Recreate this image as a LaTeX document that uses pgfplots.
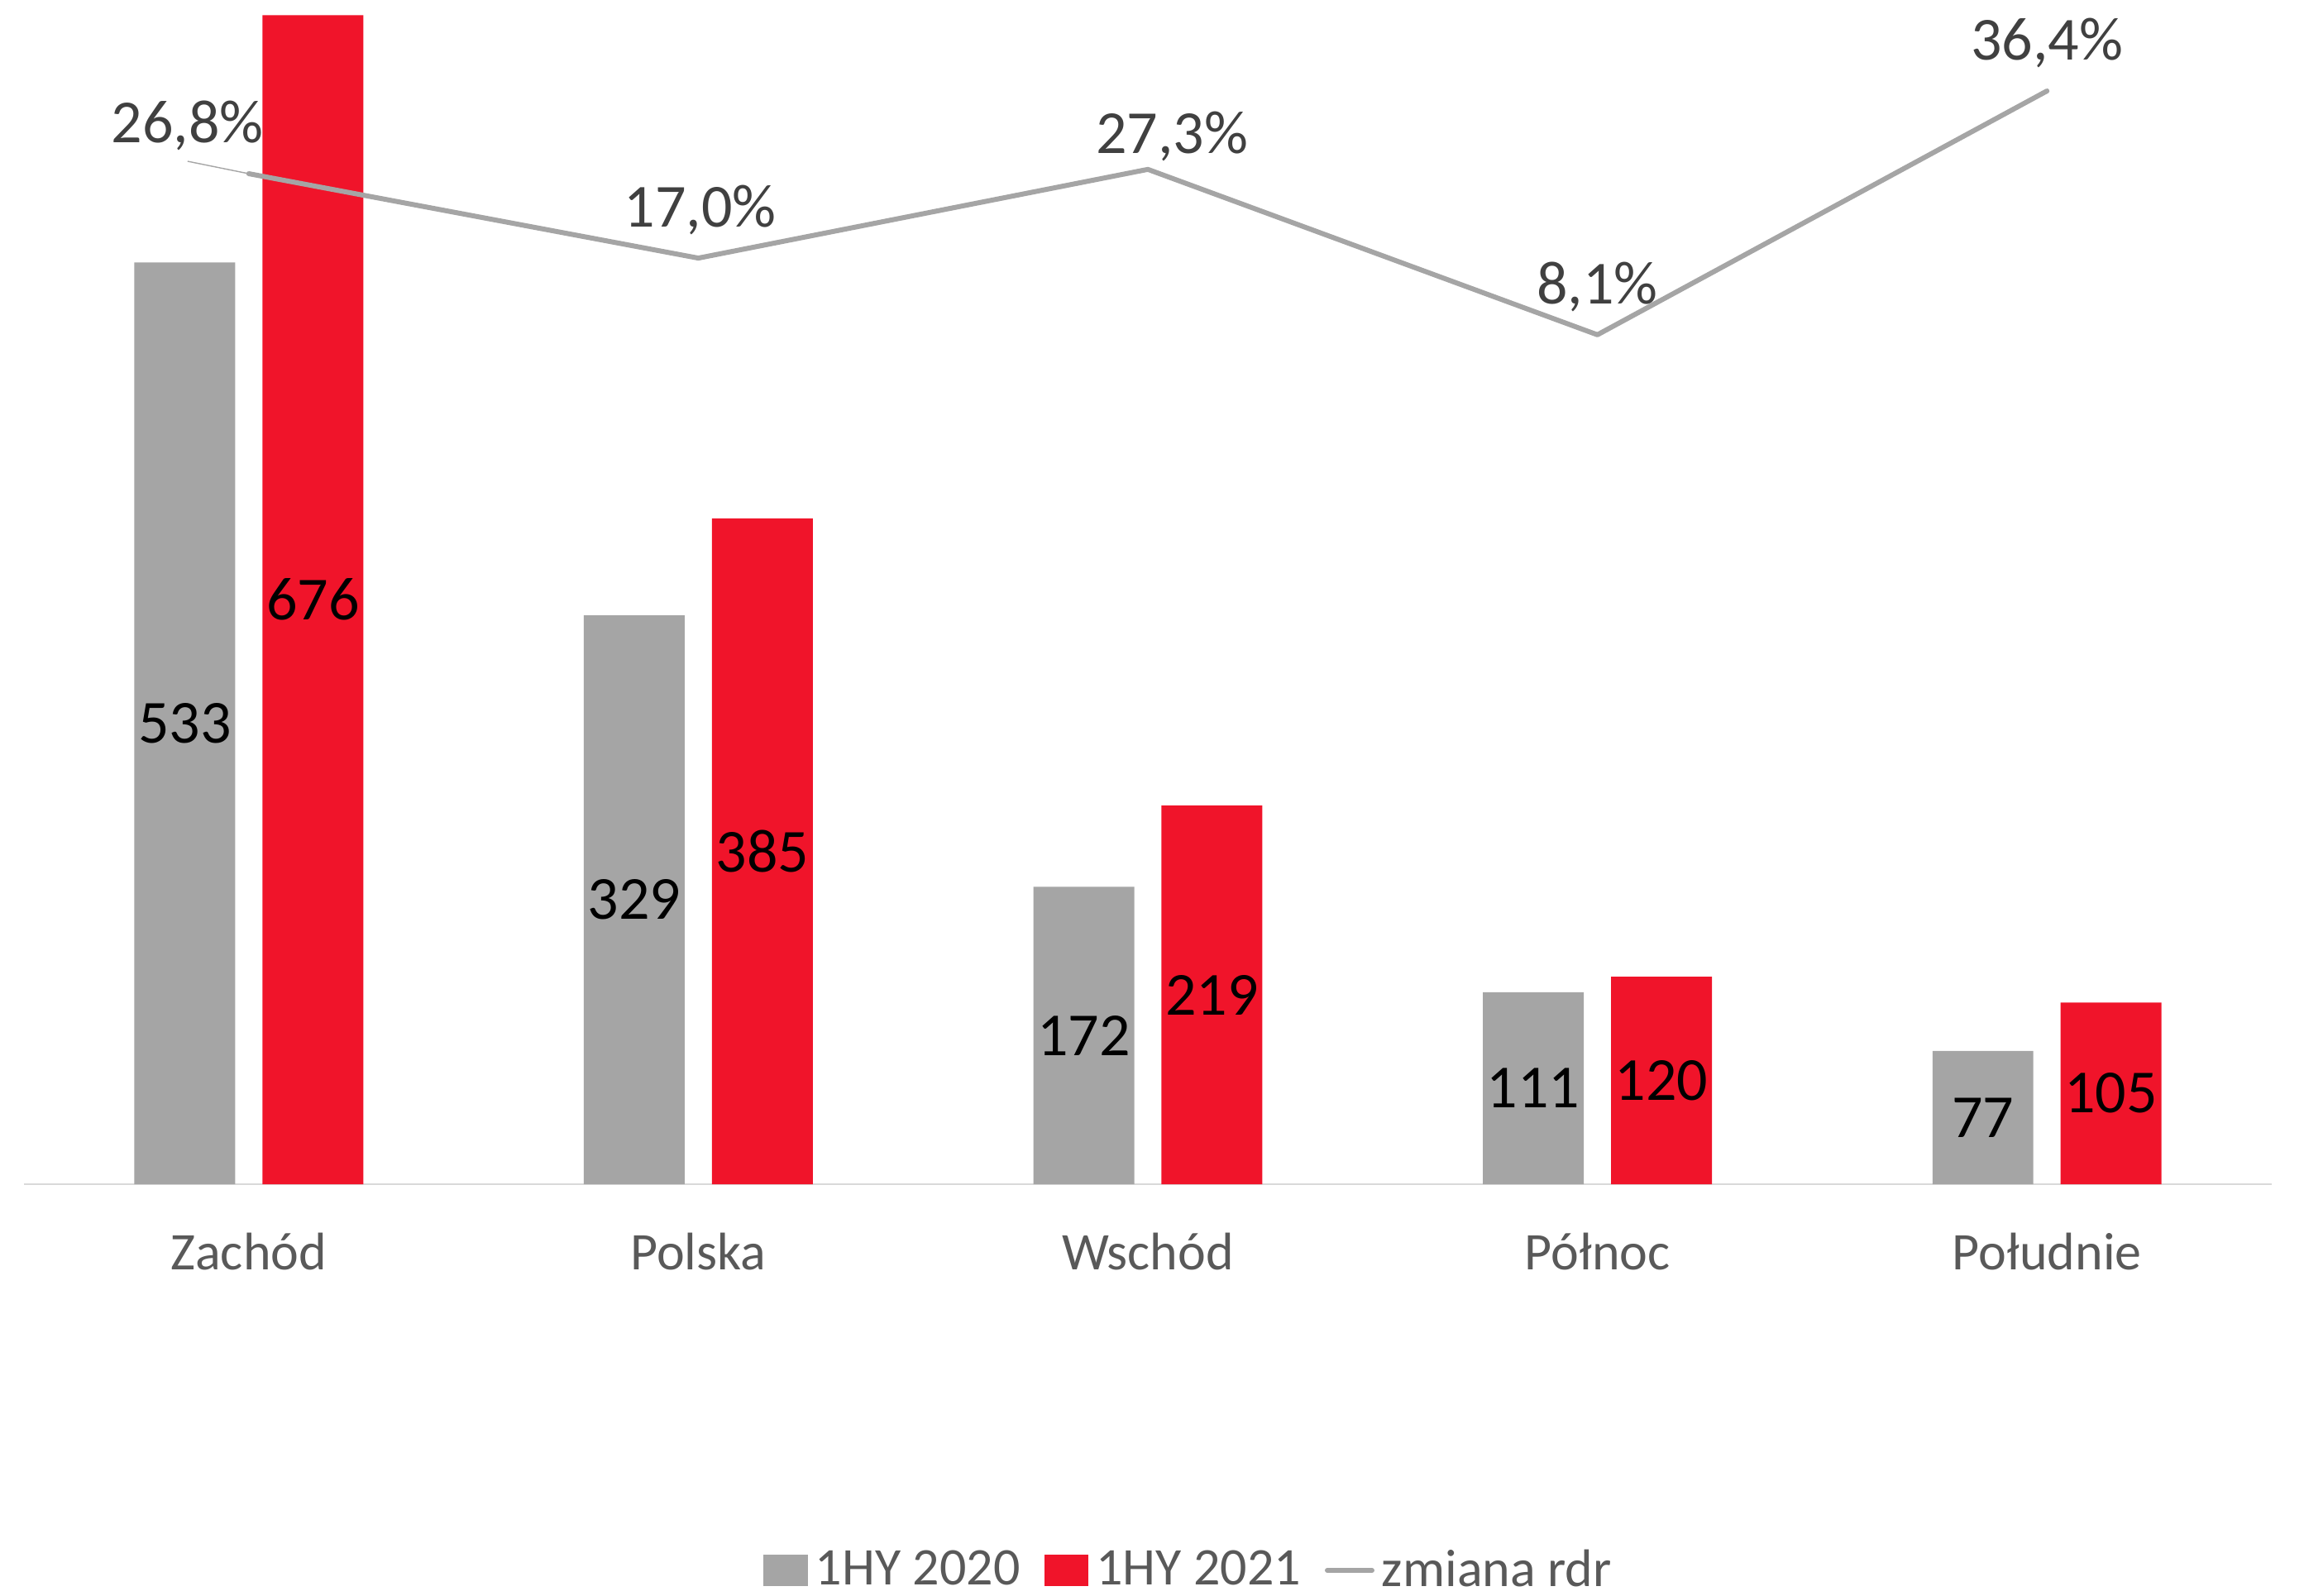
\documentclass[border=0pt]{standalone}
\usepackage{fontspec}
\setmainfont{Carlito}
\usepackage{pgfplots}
\pgfplotsset{compat=1.18}
\usepackage{pgfplotstable}
\definecolor{cgray}{HTML}{A5A5A5}
\definecolor{cred}{HTML}{F0142A}
\definecolor{ctick}{HTML}{595959}
\definecolor{cpct}{HTML}{404040}
\definecolor{caxis}{HTML}{D9D9D9}

\pgfplotstableread{
x a b
0 533 676
1 329 385
2 172 219
3 111 120
4 77 105
}\bars

\pgfplotstableread{
x p dx dy
0 26.8 -18.5 9.5
1 17.0 0.6 9.5
2 27.3 7.25 4.75
3 8.1 0 9.25
4 36.4 0 9.5
}\rdr

\begin{document}
\begin{tikzpicture}
\useasboundingbox (-7.25pt,-124.25pt) rectangle (689.25pt,358pt);
\begin{axis}[
  at={(0pt,0pt)}, anchor=south west,
  scale only axis, width=679.5pt, height=355.5pt,
  xmin=-0.5, xmax=4.5, ymin=0, ymax=680,
  axis y line=none,
  axis x line=bottom,
  x axis line style={-, draw=caxis, line width=0.6pt},
  xtick={0,1,2,3,4},
  xticklabels={Zachód,Polska,Wschód,Północ,Południe},
  major tick length=0pt,
  ytick=\empty,
  xticklabel style={font=\fontsize{16}{19}\selectfont, text=ctick, anchor=base, yshift=-25.75pt, inner sep=0pt},
  clip=false,
  /pgf/number format/assume math mode=true,
]
\addplot[ybar, bar width=0.2244, bar shift=0pt, fill=cgray, draw=none]
  table[x expr=\thisrow{x}-0.1425, y=a]{\bars};
\addplot[ybar, bar width=0.2244, bar shift=0pt, fill=cred, draw=none]
  table[x expr=\thisrow{x}+0.1425, y=b]{\bars};
\addplot[only marks, mark=none,
  nodes near coords, point meta=explicit,
  nodes near coords style={anchor=center, font=\fontsize{18.5}{22}\selectfont, text=black}]
  table[x expr=\thisrow{x}-0.1425, y expr=\thisrow{a}/2, meta=a]{\bars};
\addplot[only marks, mark=none,
  nodes near coords, point meta=explicit,
  nodes near coords style={anchor=center, font=\fontsize{18.5}{22}\selectfont, text=black}]
  table[x expr=\thisrow{x}+0.1425, y expr=\thisrow{b}/2, meta=b]{\bars};
\end{axis}
\begin{axis}[
  at={(0pt,0pt)}, anchor=south west,
  scale only axis, width=679.5pt, height=355.5pt,
  xmin=-0.5, xmax=4.5, ymin=-90.5, ymax=46.0,
  hide axis, clip=false,
  /pgf/number format/assume math mode=true,
  legend columns=3,
  legend style={at={(0.5177,-0.3284)}, anchor=center, draw=none, fill=none,
    font=\fontsize{16}{19}\selectfont, text=ctick, inner sep=0pt,
    nodes={inner sep=0pt},
    /tikz/every even column/.append style={column sep=7.25pt},
    /tikz/every odd column/.append style={column sep=2.25pt}},
]
\addlegendimage{legend image code/.code={\fill[cgray] (0pt,-4.5pt) rectangle (13pt,4.5pt);}}
\addlegendentry{1HY 2020}
\addlegendimage{legend image code/.code={\fill[cred] (0pt,-4.5pt) rectangle (13pt,4.5pt);}}
\addlegendentry{1HY 2021}
\draw[cgray, line width=0.35pt] (axis cs:0,26.8) ++(-18.5pt,3.75pt) -- (axis cs:0,26.8);
\addplot[draw=cgray, line width=1.5pt, line cap=round, line join=round,
  mark=none,
  legend image code/.code={\draw[cgray, line width=1.5pt, line cap=round] (-1.5pt,0pt) -- (12pt,0pt);},
  point meta=explicit,
  visualization depends on={\thisrow{dx} \as \dx},
  visualization depends on={\thisrow{dy} \as \dy},
  nodes near coords={\pgfmathprintnumber[fixed,fixed zerofill,precision=1,use comma]{\pgfplotspointmeta}\%},
  nodes near coords style={anchor=base, xshift=\dx pt, yshift=\dy pt, font=\fontsize{18.5}{22}\selectfont, text=cpct, inner sep=0pt}]
  table[x=x, y=p, meta=p]{\rdr};
\addlegendentry{zmiana rdr}
\end{axis}
\end{tikzpicture}
\end{document}
